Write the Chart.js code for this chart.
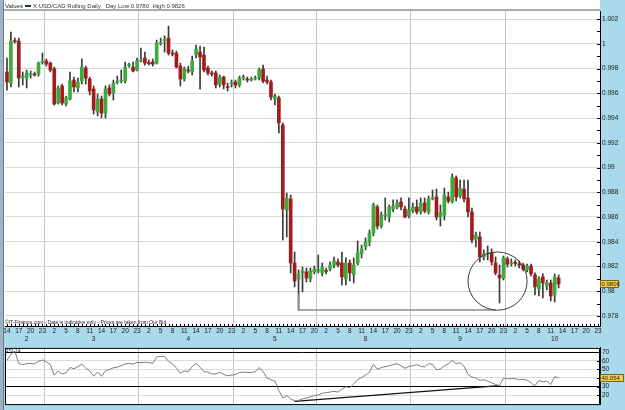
<!DOCTYPE html>
<html>
<head>
<meta charset="utf-8">
<script src="https://cdn.jsdelivr.net/npm/chart.js@4.4.0/dist/chart.umd.min.js"></script>
<style>
  html, body { margin: 0; padding: 0; }
  body { width: 625px; height: 410px; background: #a9d9ea; position: relative; overflow: hidden; }
  #edge { position: absolute; left: 0; top: 0; width: 3px; height: 410px; background: #9db3c6; border-right: 1px solid #6b7b8b; }
  #main { position: absolute; left: 0; top: 0; }
  #rsi { position: absolute; left: 0; top: 342px; }
</style>
</head>
<body>
<div id="edge"></div>
<canvas id="main" width="625" height="342"></canvas>
<canvas id="rsi" width="625" height="68"></canvas>
<script>
// Sessions (hourly candles): day number, first and last hour shown
const sessionDays = [2, 3, 4, 5, 8, 9, 10];
const sessionFirstHour = [14, 0, 0, 0, 0, 0, 0];
const sessionLastHour = [23, 23, 23, 20, 23, 23, 23];

// USD/CAD hourly OHLC
const openPrices = [
  0.99772, 0.99683, 1.00026, 1.00022, 0.99731, 0.99723, 0.99748, 0.99756, 0.99756, 0.99849,
  0.99861, 0.99844, 0.99796, 0.99521, 0.99659, 0.99513, 0.99554, 0.99707, 0.99643, 0.99699,
  0.99804, 0.99715, 0.99634, 0.99449, 0.99554, 0.99440, 0.99643, 0.99602, 0.99687, 0.99699,
  0.99699, 0.99824, 0.99812, 0.99788, 0.99861, 0.99885, 0.99849, 0.99853, 0.99844, 1.00002,
  1.00026, 1.00046, 0.99925, 0.99925, 0.99820, 0.99715, 0.99788, 0.99772, 0.99909, 0.99933,
  0.99909, 0.99804, 0.99764, 0.99764, 0.99675, 0.99731, 0.99655, 0.99675, 0.99691, 0.99667,
  0.99723, 0.99715, 0.99707, 0.99715, 0.99723, 0.99796, 0.99707, 0.99691, 0.99554, 0.99562,
  0.99344, 0.98657, 0.98746, 0.98228, 0.98099, 0.98148, 0.98156, 0.98099, 0.98156, 0.98164,
  0.98148, 0.98168, 0.98180, 0.98212, 0.98237, 0.98228, 0.98099, 0.98228, 0.98132, 0.98228,
  0.98301, 0.98358, 0.98398, 0.98471, 0.98681, 0.98527, 0.98612, 0.98600, 0.98665, 0.98681,
  0.98722, 0.98665, 0.98608, 0.98649, 0.98681, 0.98641, 0.98713, 0.98641, 0.98746, 0.98762,
  0.98600, 0.98616, 0.98762, 0.98722, 0.98915, 0.98770, 0.98826, 0.98754, 0.98641, 0.98422,
  0.98439, 0.98277, 0.98305, 0.98309, 0.98228, 0.98132, 0.98107, 0.98261, 0.98220, 0.98233,
  0.98220, 0.98212, 0.98172, 0.98204, 0.98132, 0.98019, 0.98116, 0.98043, 0.98067, 0.97970,
  0.98107
];
const highPrices = [
  0.99885, 1.00095, 1.00046, 1.00046, 0.99772, 0.99788, 0.99780, 0.99772, 0.99853, 0.99925,
  0.99877, 0.99853, 0.99812, 0.99659, 0.99675, 0.99578, 0.99772, 0.99731, 0.99723, 0.99877,
  0.99820, 0.99731, 0.99659, 0.99594, 0.99578, 0.99659, 0.99667, 0.99707, 0.99739, 0.99788,
  0.99853, 0.99844, 0.99853, 0.99885, 0.99966, 0.99933, 0.99869, 0.99877, 1.00030, 1.00046,
  1.00063, 1.00143, 0.99950, 0.99941, 0.99844, 0.99812, 0.99820, 0.99901, 0.99990, 0.99982,
  0.99974, 0.99820, 0.99780, 0.99780, 0.99748, 0.99739, 0.99683, 0.99707, 0.99707, 0.99739,
  0.99748, 0.99731, 0.99731, 0.99739, 0.99804, 0.99828, 0.99739, 0.99707, 0.99594, 0.99578,
  0.99360, 0.98794, 0.98778, 0.98317, 0.98172, 0.98196, 0.98188, 0.98188, 0.98204, 0.98293,
  0.98228, 0.98188, 0.98237, 0.98277, 0.98261, 0.98317, 0.98269, 0.98253, 0.98269, 0.98406,
  0.98374, 0.98431, 0.98495, 0.98713, 0.98697, 0.98641, 0.98754, 0.98697, 0.98738, 0.98738,
  0.98754, 0.98689, 0.98754, 0.98713, 0.98738, 0.98754, 0.98754, 0.98770, 0.98818, 0.98826,
  0.98697, 0.98834, 0.98802, 0.98948, 0.98932, 0.98899, 0.98899, 0.98899, 0.98673, 0.98479,
  0.98479, 0.98334, 0.98366, 0.98342, 0.98277, 0.98212, 0.98285, 0.98277, 0.98261, 0.98253,
  0.98245, 0.98228, 0.98220, 0.98220, 0.98148, 0.98116, 0.98140, 0.98091, 0.98091, 0.98140,
  0.98132
];
const lowPrices = [
  0.99626, 0.99651, 1.00006, 0.99651, 0.99667, 0.99643, 0.99723, 0.99739, 0.99739, 0.99836,
  0.99820, 0.99772, 0.99505, 0.99513, 0.99505, 0.99497, 0.99546, 0.99610, 0.99610, 0.99675,
  0.99675, 0.99586, 0.99432, 0.99416, 0.99400, 0.99400, 0.99578, 0.99546, 0.99675, 0.99683,
  0.99683, 0.99812, 0.99772, 0.99780, 0.99853, 0.99828, 0.99828, 0.99820, 0.99836, 0.99990,
  0.99933, 0.99909, 0.99901, 0.99804, 0.99659, 0.99699, 0.99764, 0.99748, 0.99885, 0.99634,
  0.99772, 0.99748, 0.99739, 0.99643, 0.99651, 0.99634, 0.99618, 0.99651, 0.99643, 0.99651,
  0.99707, 0.99691, 0.99699, 0.99707, 0.99707, 0.99683, 0.99675, 0.99546, 0.99505, 0.99279,
  0.98414, 0.98439, 0.98148, 0.98035, 0.97848, 0.97994, 0.98075, 0.98075, 0.98140, 0.98148,
  0.98124, 0.98140, 0.98164, 0.98188, 0.98196, 0.98051, 0.98051, 0.98083, 0.98067, 0.98212,
  0.98269, 0.98334, 0.98366, 0.98447, 0.98503, 0.98511, 0.98576, 0.98560, 0.98641, 0.98665,
  0.98657, 0.98592, 0.98592, 0.98633, 0.98624, 0.98624, 0.98633, 0.98624, 0.98738, 0.98576,
  0.98527, 0.98576, 0.98713, 0.98713, 0.98730, 0.98754, 0.98722, 0.98600, 0.98390, 0.98358,
  0.98237, 0.98253, 0.98253, 0.98212, 0.98132, 0.97905, 0.98091, 0.98196, 0.98204, 0.98204,
  0.98188, 0.98164, 0.98156, 0.98124, 0.97970, 0.97962, 0.97946, 0.98011, 0.97921, 0.97913,
  0.98027
];
const closePrices = [
  0.99691, 1.00022, 1.00018, 0.99723, 0.99739, 0.99764, 0.99756, 0.99748, 0.99844, 0.99857,
  0.99836, 0.99788, 0.99513, 0.99643, 0.99521, 0.99562, 0.99699, 0.99651, 0.99691, 0.99812,
  0.99723, 0.99618, 0.99465, 0.99554, 0.99440, 0.99634, 0.99594, 0.99683, 0.99695, 0.99707,
  0.99812, 0.99832, 0.99780, 0.99861, 0.99869, 0.99844, 0.99840, 0.99836, 1.00006, 1.00010,
  1.00034, 0.99925, 0.99917, 0.99812, 0.99715, 0.99796, 0.99780, 0.99861, 0.99958, 0.99893,
  0.99788, 0.99764, 0.99756, 0.99667, 0.99731, 0.99667, 0.99647, 0.99683, 0.99667, 0.99723,
  0.99731, 0.99707, 0.99715, 0.99723, 0.99788, 0.99699, 0.99691, 0.99570, 0.99578, 0.99360,
  0.98665, 0.98754, 0.98228, 0.98083, 0.98140, 0.98164, 0.98107, 0.98164, 0.98180, 0.98172,
  0.98196, 0.98160, 0.98212, 0.98245, 0.98212, 0.98116, 0.98228, 0.98148, 0.98212, 0.98309,
  0.98342, 0.98398, 0.98471, 0.98697, 0.98527, 0.98616, 0.98620, 0.98681, 0.98689, 0.98713,
  0.98681, 0.98600, 0.98657, 0.98681, 0.98641, 0.98713, 0.98649, 0.98746, 0.98754, 0.98600,
  0.98633, 0.98778, 0.98730, 0.98923, 0.98762, 0.98834, 0.98746, 0.98641, 0.98414, 0.98455,
  0.98277, 0.98301, 0.98313, 0.98237, 0.98148, 0.98107, 0.98269, 0.98220, 0.98228, 0.98224,
  0.98212, 0.98180, 0.98204, 0.98140, 0.98035, 0.98099, 0.98067, 0.98067, 0.97962, 0.98116,
  0.98059
];

// RSI(14)
const rsiValues = [
  60.5, 68, 71.3, 56.7, 55.6, 56.7, 57, 56.4, 59.4, 61,
  59, 55.6, 43.3, 48.1, 44.7, 46.1, 52.2, 50.8, 53.2, 56,
  51.5, 48.1, 42.3, 46.8, 42, 48.5, 49.8, 51.9, 52.6, 54.3,
  56.4, 57, 56, 58.4, 57.7, 58.4, 58, 57, 64.6, 65.2,
  65.2, 59.4, 56.7, 51.5, 45.7, 48.1, 47.4, 53.2, 57, 52.6,
  47.4, 46.8, 44.7, 44.7, 46.8, 44.1, 42.7, 43.3, 44.1, 46.4,
  46.8, 46.4, 46.4, 47.4, 52.2, 47.4, 40, 37.9, 36.5, 25.2,
  16.7, 19.4, 15.6, 13.3, 13.9, 15.6, 16.7, 18, 19.4, 20.1,
  22.1, 22.8, 23.5, 24.5, 23.5, 26.9, 29.7, 28.6, 33.1, 38.2,
  40.6, 43.3, 46.8, 56, 50.2, 52.2, 53.2, 54.3, 55.6, 56.7,
  54.3, 51.2, 53.6, 54.3, 55.6, 53.6, 52.9, 56.7, 56, 49.5,
  50.5, 54.3, 56.4, 60.5, 56.7, 57.7, 53.6, 44.1, 41, 40,
  37.2, 37.9, 36.2, 34.4, 32.4, 31, 40, 38.9, 39.2, 39.2,
  37.9, 38.5, 37.5, 34.4, 31, 37.2, 35.4, 36.5, 32.4, 41.5,
  40.054
];
const rsiTrend = [{ x: "5 15", y: 12.6 }, { x: "9 22", y: 31 }];

// Drawn marks on the price panel
const supportBracket = { from: "5 16", to: "9 21", top: 0.9798, bottom: 0.97848 };
const circleMark = { from: "9 14", to: "10 5", top: 0.98317, bottom: 0.97847 };

// Axis ranges
const priceMin = 0.97719;
const priceMax = 1.00265;
const rsiMin = 9.5;
const rsiMax = 75.1;

const headerText = "X USD/CAD Rolling Daily   Day Low 0.9780  High 0.9826";
const footerText = "\u00a9IT-Finance.com - Data is indicative only - Prices are taken from Our Bid";

// Build category labels from the sessions
const labels = [];
const hourOf = [];
const dayTickAt = {};
sessionDays.forEach((day, s) => {
  const first = labels.length;
  for (let h = sessionFirstHour[s]; h <= sessionLastHour[s]; h++) {
    labels.push(day + " " + h);
    hourOf.push(h);
  }
  dayTickAt[Math.round((first + labels.length - 1) / 2)] = String(day);
});

const GREEN = "#3cab3c";
const RED = "#a31c1c";
const tickFont = { family: "'Liberation Sans', Arial, sans-serif", size: 6.5 };
const dayLineColor = (c) => (c.index > 0 && hourOf[c.index] === 0 ? "#c4c4c4" : "rgba(0,0,0,0)");

const wicks = lowPrices.map((l, i) => [l, highPrices[i]]);
const bodies = openPrices.map((o, i) => [o, closePrices[i]]);
const bodyColors = openPrices.map((o, i) => (closePrices[i] >= o ? GREEN : RED));

function isMajor(v) {
  return Math.round(v * 1000) % 2 === 0;
}

function valueBox(ctx, x, yMid, w, text) {
  ctx.fillStyle = "#f4cf45";
  ctx.fillRect(x, yMid - 3.5, w, 7);
  ctx.strokeStyle = "#7a6410";
  ctx.lineWidth = 1;
  ctx.strokeRect(x + 0.5, Math.round(yMid - 3.5) + 0.5, w - 1, 7);
  ctx.fillStyle = "#222";
  ctx.font = "6px 'Liberation Sans', Arial, sans-serif";
  ctx.textBaseline = "middle";
  ctx.fillText(text, x + 1.5, yMid + 0.5);
}

const mainDecor = {
  id: "mainDecor",
  beforeDraw(chart) {
    const { ctx, chartArea: a } = chart;
    ctx.save();
    ctx.fillStyle = "#fff";
    ctx.fillRect(4, 0, a.right - 4, a.bottom);
    ctx.restore();
  },
  afterDraw(chart) {
    const { ctx, chartArea: a, scales: { x, y } } = chart;
    ctx.save();

    // header strip border
    ctx.fillStyle = "#ababab";
    ctx.fillRect(4, a.top - 2, a.right - 4, 2);

    // short inward tick marks
    ctx.strokeStyle = "#000";
    ctx.lineWidth = 1;
    ctx.beginPath();
    y.ticks.forEach((t, i) => {
      const py = Math.round(y.getPixelForTick(i)) + 0.5;
      ctx.moveTo(a.right - 3, py);
      ctx.lineTo(a.right, py);
    });
    labels.forEach((l, i) => {
      const px = Math.round(x.getPixelForValue(i)) + 0.5;
      ctx.moveTo(px, a.bottom - 2);
      ctx.lineTo(px, a.bottom);
    });
    ctx.stroke();

    // support bracket
    const bx0 = x.getPixelForValue(supportBracket.from);
    const bx1 = x.getPixelForValue(supportBracket.to);
    const by0 = y.getPixelForValue(supportBracket.top);
    const by1 = y.getPixelForValue(supportBracket.bottom);
    ctx.strokeStyle = "#8c8c8c";
    ctx.lineWidth = 1.5;
    ctx.beginPath();
    ctx.moveTo(bx0, by0);
    ctx.lineTo(bx0, by1);
    ctx.lineTo(bx1, by1);
    ctx.stroke();

    // circle around the last lows
    const cx0 = x.getPixelForValue(circleMark.from);
    const cx1 = x.getPixelForValue(circleMark.to);
    const cy0 = y.getPixelForValue(circleMark.top);
    const cy1 = y.getPixelForValue(circleMark.bottom);
    ctx.strokeStyle = "#3a3a3a";
    ctx.lineWidth = 1;
    ctx.beginPath();
    ctx.ellipse((cx0 + cx1) / 2, (cy0 + cy1) / 2, (cx1 - cx0) / 2, (cy1 - cy0) / 2, 0, 0, Math.PI * 2);
    ctx.stroke();

    // last price box
    const last = closePrices[closePrices.length - 1];
    valueBox(ctx, a.right, y.getPixelForValue(last), 19, last.toFixed(4));

    // texts
    ctx.fillStyle = "#222";
    ctx.textBaseline = "alphabetic";
    ctx.font = "6px 'Liberation Sans', Arial, sans-serif";
    ctx.fillText("Values", 5, 7.5);
    ctx.fillStyle = "#1c2f6b";
    ctx.fillRect(25, 5, 6, 2);
    ctx.fillStyle = "#333";
    ctx.fillText(headerText, 33, 7.5);
    ctx.font = "5px 'Liberation Sans', Arial, sans-serif";
    ctx.fillStyle = "#222";
    ctx.fillText(footerText, 5, a.bottom - 2);
    ctx.restore();
  },
};

const rsiDecor = {
  id: "rsiDecor",
  beforeDraw(chart) {
    const { ctx, chartArea: a } = chart;
    ctx.save();
    ctx.fillStyle = "#fff";
    ctx.fillRect(a.left, a.top, a.right - a.left, a.bottom - a.top);
    ctx.restore();
  },
  afterDraw(chart) {
    const { ctx, chartArea: a, scales: { y } } = chart;
    ctx.save();
    ctx.strokeStyle = "#000";
    ctx.lineWidth = 1;
    ctx.strokeRect(a.left + 0.5, a.top + 0.5, a.right - a.left - 1, a.bottom - a.top);
    ctx.beginPath();
    y.ticks.forEach((t, i) => {
      const py = Math.round(y.getPixelForTick(i)) + 0.5;
      ctx.moveTo(a.right - 3, py);
      ctx.lineTo(a.right, py);
    });
    ctx.stroke();
    ctx.fillStyle = "#222";
    ctx.font = "5px 'Liberation Sans', Arial, sans-serif";
    ctx.textBaseline = "alphabetic";
    ctx.fillText("RSI-14", 5, a.top + 5);
    const last = rsiValues[rsiValues.length - 1];
    valueBox(ctx, a.right, y.getPixelForValue(last), 24, last.toFixed(3));
    ctx.restore();
  },
};

new Chart(document.getElementById("main"), {
  type: "bar",
  data: {
    labels: labels,
    datasets: [
      { data: wicks, backgroundColor: "#3a3a3a", barThickness: 1, grouped: false, order: 2 },
      { data: bodies, backgroundColor: bodyColors, barThickness: 3, grouped: false, order: 1 },
    ],
  },
  options: {
    responsive: false,
    animation: false,
    devicePixelRatio: 1,
    layout: { padding: { left: 5, top: 11, right: 0, bottom: 0 } },
    plugins: { legend: { display: false }, tooltip: { enabled: false } },
    scales: {
      x: {
        offset: true,
        grid: { offset: true, drawTicks: false, color: dayLineColor, lineWidth: 1 },
        border: { display: true, color: "#000", width: 1 },
        ticks: {
          autoSkip: false,
          maxRotation: 0,
          padding: 1.5,
          font: tickFont,
          color: "#1a1a1a",
          callback: (v, i) => {
            const h = hourOf[i] % 3 === 2 ? String(hourOf[i]) : "";
            return dayTickAt[i] ? [h, dayTickAt[i]] : h;
          },
        },
        afterFit: (s) => { s.height = 16; },
      },
      y: {
        position: "right",
        min: priceMin,
        max: priceMax,
        ticks: {
          stepSize: 0.001,
          includeBounds: false,
          autoSkip: false,
          padding: 2,
          font: tickFont,
          color: "#1a1a1a",
          callback: (v) => (isMajor(v) ? String(+v.toFixed(3)) : ""),
        },
        grid: {
          drawTicks: false,
          color: (c) => (c.tick && isMajor(c.tick.value) ? "#d8d8d8" : "rgba(0,0,0,0)"),
        },
        border: { color: "#000" },
        afterFit: (s) => { s.width = 25; },
      },
    },
  },
  plugins: [mainDecor],
});

new Chart(document.getElementById("rsi"), {
  type: "line",
  data: {
    labels: labels,
    datasets: [
      { data: rsiValues, borderColor: "#7d7d7d", borderWidth: 1, pointRadius: 0, tension: 0 },
      { data: rsiTrend, borderColor: "#111", borderWidth: 1.2, pointRadius: 0, spanGaps: true },
    ],
  },
  options: {
    responsive: false,
    animation: false,
    devicePixelRatio: 1,
    layout: { padding: { left: 5, top: 1, right: 0, bottom: 3 } },
    plugins: { legend: { display: false }, tooltip: { enabled: false } },
    scales: {
      x: {
        offset: true,
        ticks: { display: false },
        grid: { offset: true, drawTicks: false, color: dayLineColor },
        border: { display: false },
        afterFit: (s) => { s.height = 0; },
      },
      y: {
        position: "right",
        min: rsiMin,
        max: rsiMax,
        ticks: {
          stepSize: 10,
          includeBounds: false,
          autoSkip: false,
          padding: 2,
          font: tickFont,
          color: "#1a1a1a",
          callback: (v) => (v >= 20 && v <= 70 ? String(v) : ""),
        },
        grid: {
          drawTicks: false,
          color: (c) => {
            const v = c.tick ? c.tick.value : null;
            if (v === 70 || v === 30) return "#000";
            return v >= 20 && v <= 60 ? "#dadada" : "rgba(0,0,0,0)";
          },
        },
        border: { color: "#000" },
        afterFit: (s) => { s.width = 25; },
      },
    },
  },
  plugins: [rsiDecor],
});
</script>
</body>
</html>
